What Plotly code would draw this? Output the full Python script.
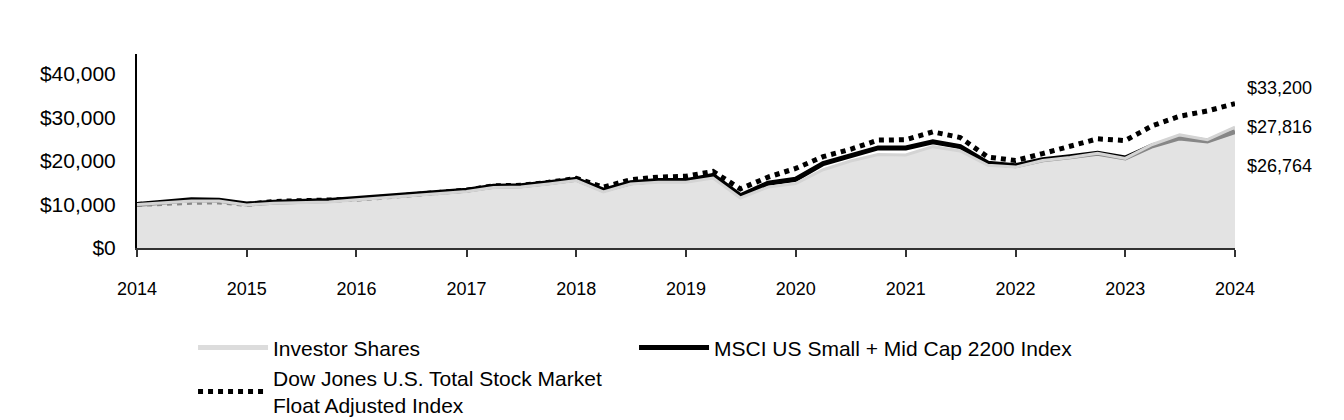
import pandas as pd
import plotly.graph_objects as go

dates = pd.date_range("2014-01-01", periods=41, freq="QS")

investor = [10000, 10400, 10800, 10800, 9900, 10300, 10400, 10600, 11100, 11600,
            12100, 12500, 13000, 13900, 14000, 14700, 15500, 12900, 14700, 15100,
            15100, 16100, 11500, 14000, 14800, 18000, 20000, 21500, 21400, 23300,
            22300, 19000, 18600, 20100, 20800, 21800, 20600, 23800, 26000, 24900,
            27816]
msci = [10000, 10600, 11100, 11000, 10100, 10500, 10650, 10900, 11400, 11900,
        12400, 12800, 13300, 14200, 14300, 15000, 15800, 13300, 15000, 15500,
        15500, 16700, 12000, 14900, 15800, 19400, 21300, 23000, 23000, 24400,
        23300, 19500, 18900, 20300, 21000, 21800, 20700, 23500, 25300, 24600,
        26764]
dow = [10000, 10300, 10500, 10600, 10000, 10700, 10800, 10900, 11200, 11700,
       12200, 12600, 13300, 14300, 14400, 15100, 16000, 14000, 15700, 16300,
       16500, 17600, 13600, 16300, 18300, 21000, 22700, 24800, 24900, 26700,
       25400, 20900, 20100, 21700, 23400, 25100, 24700, 28100, 30300, 31500,
       33200]

names = ["Investor Shares", "MSCI US Small + Mid Cap 2200 Index",
         "Dow Jones U.S. Total Stock Market<br>Float Adjusted Index"]
year_ticks = list(range(2014, 2025))
y_ticks = [0, 10000, 20000, 30000, 40000]

FONT = "Liberation Sans, Arial, sans-serif"

fig = go.Figure()
fig.add_trace(go.Scatter(x=dates, y=msci, name=names[1], mode="lines",
                         line=dict(color="#000000", width=5), legendrank=2))
fig.add_trace(go.Scatter(x=dates, y=dow, name=names[2], mode="lines",
                         line=dict(color="#000000", width=5, dash="dot"), legendrank=3))
fig.add_trace(go.Scatter(x=dates, y=investor, name=names[0], mode="lines",
                         fill="tozeroy", fillcolor="rgba(211,211,211,0.64)",
                         line=dict(color="#d4d4d4", width=3), showlegend=False))
# legend entry for the investor line (line sample only)
fig.add_trace(go.Scatter(x=[None], y=[None], name=names[0], mode="lines",
                         line=dict(color="#dcdcdc", width=5), legendrank=1,
                         hoverinfo="skip"))

# end labels
ends = [dow[-1], investor[-1], msci[-1]]
label_pos = [0.825, 0.624, 0.423]
for v, yp in zip(ends, label_pos):
    fig.add_annotation(x=1, xref="paper", xshift=10, y=yp, yref="paper",
                       text=f"${v:,.0f}", showarrow=False, xanchor="left",
                       yanchor="middle", font=dict(size=18, color="#000000", family=FONT))

fig.update_layout(
    width=1336, height=412,
    margin=dict(l=129, r=109, t=46, b=172),
    paper_bgcolor="white", plot_bgcolor="white",
    font=dict(family=FONT, color="#000000"),
    showlegend=True,
    legend=dict(orientation="h", xref="container", yref="container",
                x=0.1385, y=0.225, xanchor="left", yanchor="top",
                entrywidth=356, entrywidthmode="pixels", traceorder="normal",
                font=dict(size=21, family=FONT, color="#000000"),
                itemwidth=70),
    xaxis=dict(
        range=[dates[0], dates[-1]],
        tickvals=[pd.Timestamp(f"{y}-01-01") for y in year_ticks],
        ticktext=[str(y) for y in year_ticks],
        showgrid=False, zeroline=False,
        showline=True, linecolor="#333333", linewidth=2,
        ticks="outside", ticklen=7, tickwidth=2, tickcolor="#333333",
        ticklabelstandoff=16,
        tickfont=dict(size=18, family=FONT, color="#000000"),
    ),
    yaxis=dict(
        range=[0, 44600],
        tickvals=y_ticks,
        ticktext=[f"${v:,}" for v in y_ticks],
        showgrid=False, zeroline=False,
        showline=True, linecolor="#000000", linewidth=2,
        ticks="", ticklabelstandoff=15,
        tickfont=dict(size=21, family=FONT, color="#000000"),
    ),
)

fig.write_html("out.html")
